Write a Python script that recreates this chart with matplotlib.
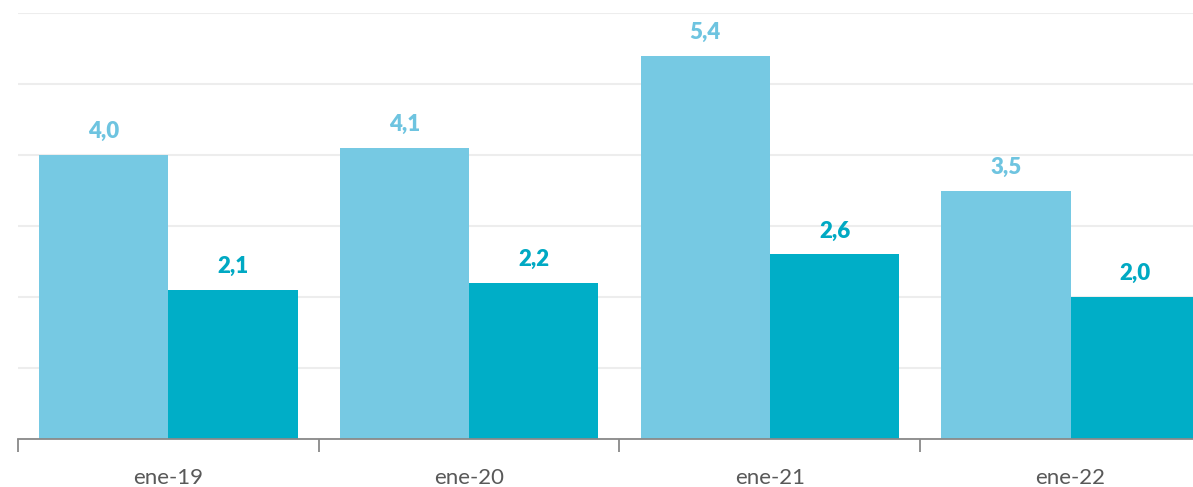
import numpy as np
import matplotlib.pyplot as plt

categories = ["ene-19", "ene-20", "ene-21", "ene-22"]
serie_a = [4.0, 4.1, 5.4, 3.5]   # light blue
serie_b = [2.1, 2.2, 2.6, 2.0]   # teal

c_light = "#76C9E3"
c_teal = "#00AEC7"

plt.rcParams['font.family'] = ['Lato', 'DejaVu Sans']

fig = plt.figure(figsize=(11.93, 4.87), dpi=100)
ax = fig.add_axes([18 / 1193, 1 - 439 / 487, 1 - 18 / 1193, 426 / 487])

x = np.arange(len(categories))
w = 0.43
bars_a = ax.bar(x - w / 2, serie_a, w, color=c_light, zorder=2)
bars_b = ax.bar(x + w / 2, serie_b, w, color=c_teal, zorder=2)

for rect, v in zip(bars_a, serie_a):
    ax.text(rect.get_x() + rect.get_width() / 2, v + 0.18, f"{v:.1f}".replace(".", ","),
            ha="center", va="bottom", fontsize=16, fontweight="heavy", color="#6EC4E0")
for rect, v in zip(bars_b, serie_b):
    ax.text(rect.get_x() + rect.get_width() / 2, v + 0.18, f"{v:.1f}".replace(".", ","),
            ha="center", va="bottom", fontsize=16, fontweight="heavy", color="#00A9C3")

ax.set_yticks(np.arange(0, 7, 1))
ax.yaxis.grid(True, color="#EDEDED", linewidth=1.5, zorder=0)
ax.tick_params(axis="y", length=0, labelleft=False)

ax.set_xticks(x)
ax.set_xticklabels(categories, fontsize=16, color="#595959")
ax.set_xticks(np.arange(-0.5, 4, 1), minor=True)
ax.tick_params(axis="x", which="major", length=0, pad=21)
ax.tick_params(axis="x", which="minor", length=9, width=1.3, color="#898989")

# limits after ticks so the last group is cut at the right edge
ax.set_xlim(-0.5, 3.407)
ax.set_ylim(0, 6)

for s in ["left", "right", "top"]:
    ax.spines[s].set_visible(False)
ax.spines["bottom"].set_color("#898989")
ax.spines["bottom"].set_linewidth(1.3)

fig.savefig("out.png", dpi=100)
